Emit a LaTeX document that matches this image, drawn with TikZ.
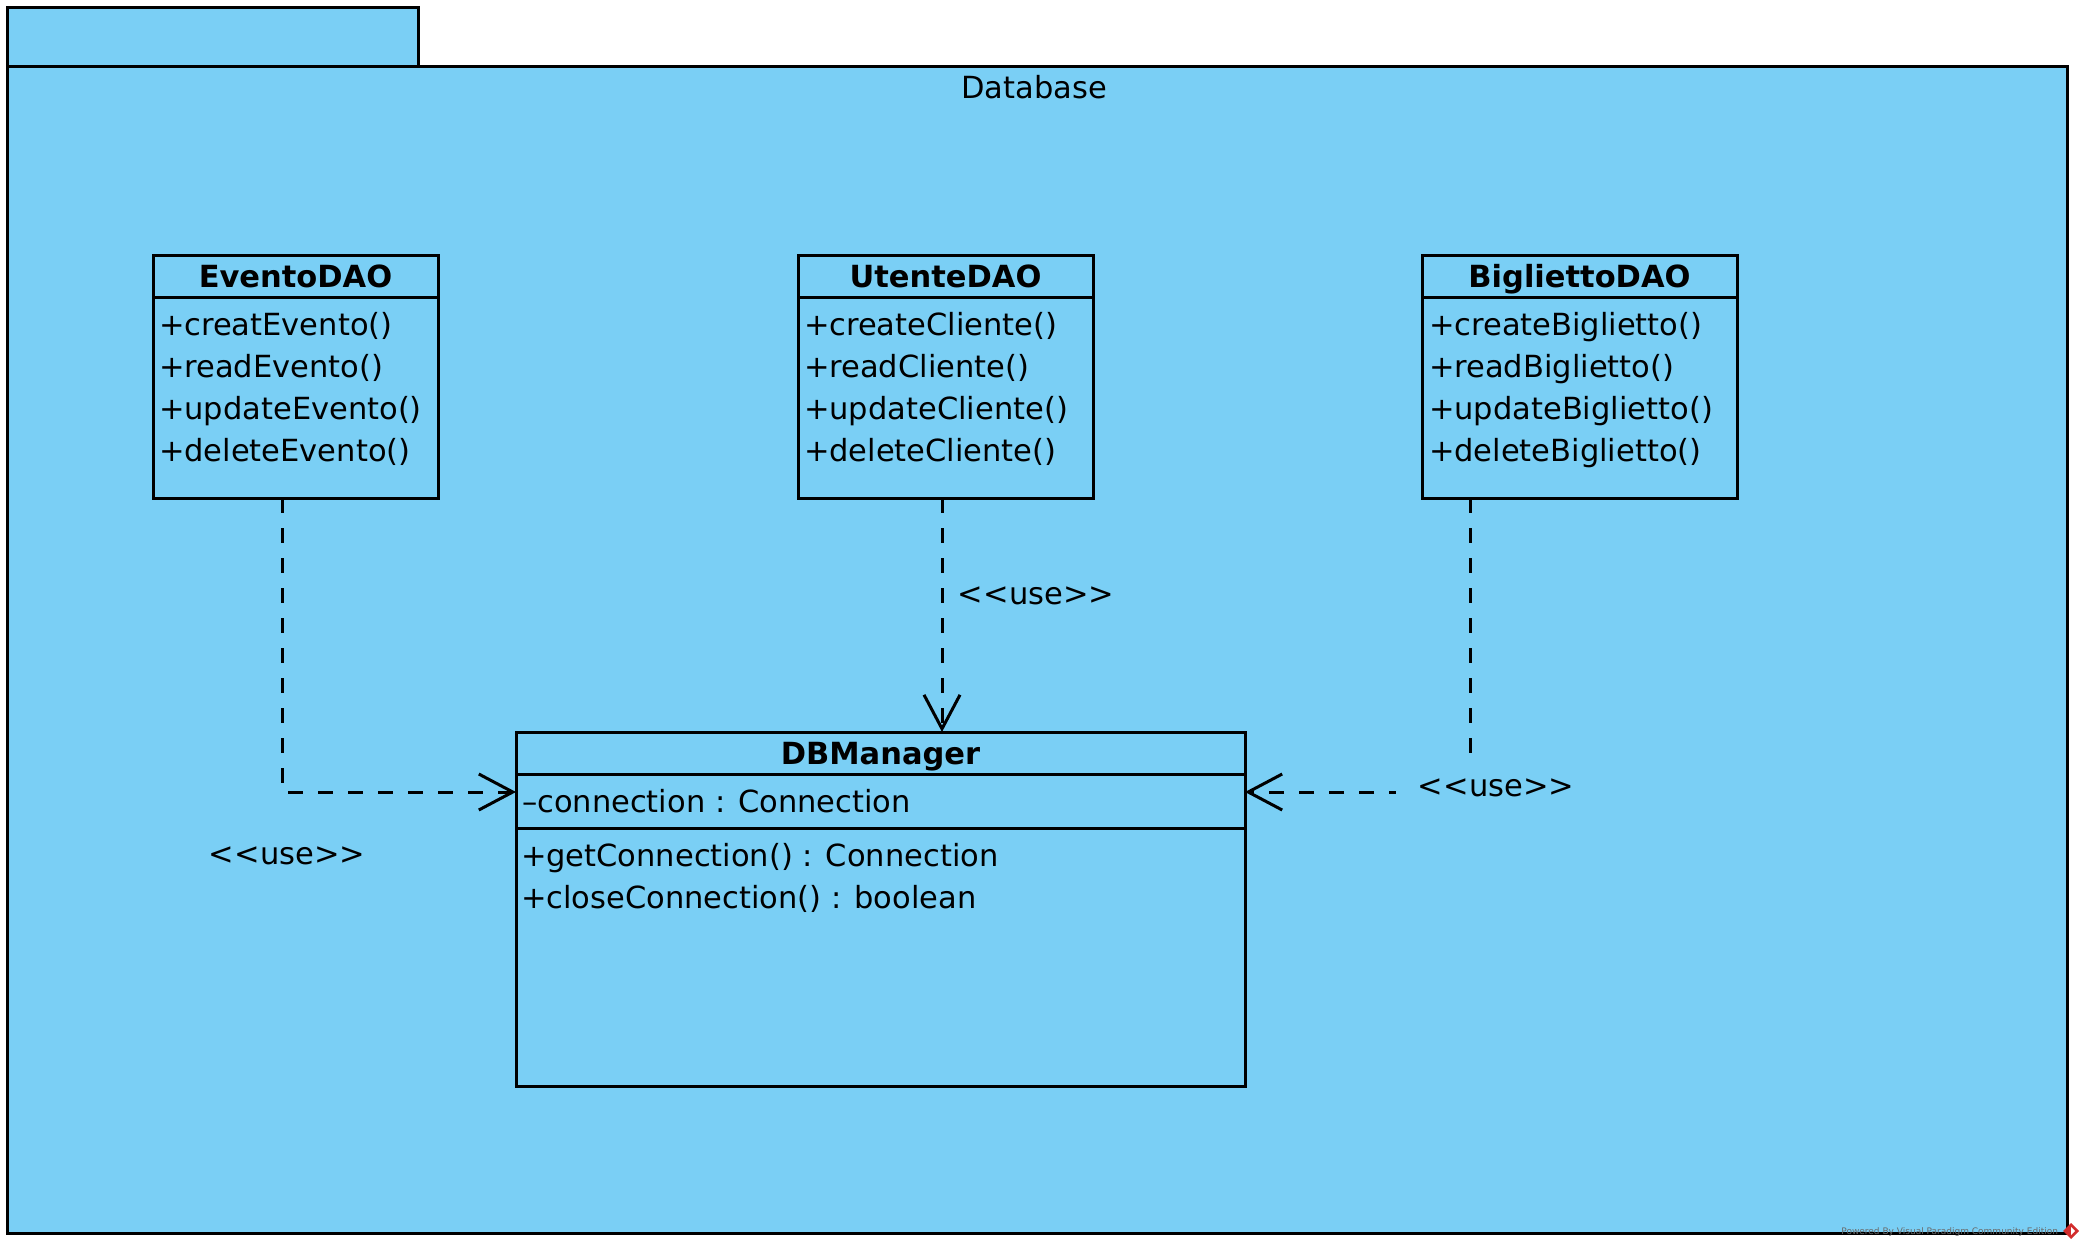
\documentclass[tikz,border=0pt]{standalone}
\usepackage{fontspec}
\setmainfont{DejaVu Sans}[Ligatures=TeXOff]
\usetikzlibrary{arrows.meta,positioning}
\definecolor{pkgblue}{RGB}{122,207,245}
\definecolor{vpgrey}{RGB}{105,105,105}
\definecolor{vpred}{RGB}{210,45,45}

\begin{document}
\begin{tikzpicture}[x=1pt,y=-1pt,line width=3pt,
  every node/.style={inner sep=0pt, outer sep=0pt, font=\fontsize{30.5}{36}\selectfont},
  classbox/.style={draw, fill=pkgblue, anchor=north west},
  classname/.style={anchor=base, font=\fontsize{30.5}{36}\selectfont\bfseries},
  member/.style={anchor=base west},
  uselabel/.style={anchor=base},
  usedep/.style={dash pattern=on 15pt off 15pt, -{Straight Barb[length=34pt,width=36pt]}}]
\useasboundingbox (0,0) rectangle (2082,1248);
\draw[fill=pkgblue] (7,7) rectangle (418,66);
\draw[fill=pkgblue] (7,66) rectangle (2067,1233);
\node[anchor=base] (database) at (1034,98) {Database};

\node[classbox, minimum width=285pt, minimum height=243pt] (evento) at (153,255) {};
\draw ([yshift=-42pt]evento.north west) -- ([yshift=-42pt]evento.north east);
\node[classname] (eventoName) at ([yshift=-32pt]evento.north) {EventoDAO};
\foreach \m [count=\i] in {creatEvento,readEvento,updateEvento,deleteEvento}
  \node[member] (evento\i) at (159,{293+42*\i}) {+\m()};

\node[classbox, minimum width=295pt, minimum height=243pt] (utente) at (798,255) {};
\draw ([yshift=-42pt]utente.north west) -- ([yshift=-42pt]utente.north east);
\node[classname] (utenteName) at ([yshift=-32pt]utente.north) {UtenteDAO};
\foreach \m [count=\i] in {createCliente,readCliente,updateCliente,deleteCliente}
  \node[member] (utente\i) at (804,{293+42*\i}) {+\m()};

\node[classbox, minimum width=315pt, minimum height=243pt] (biglietto) at (1422,255) {};
\draw ([yshift=-42pt]biglietto.north west) -- ([yshift=-42pt]biglietto.north east);
\node[classname] (bigliettoName) at ([yshift=-32pt]biglietto.north) {BigliettoDAO};
\foreach \m [count=\i] in {createBiglietto,readBiglietto,updateBiglietto,deleteBiglietto}
  \node[member] (biglietto\i) at (1429,{293+42*\i}) {+\m()};

\node[classbox, minimum width=729pt, minimum height=354pt] (dbm) at (516,732) {};
\draw ([yshift=-42pt]dbm.north west) -- ([yshift=-42pt]dbm.north east);
\draw ([yshift=-96pt]dbm.north west) -- ([yshift=-96pt]dbm.north east);
\node[classname] (dbmName) at ([yshift=-32pt]dbm.north) {DBManager};
\node[member] (dbmAttr) at (522,812) {–connection : Connection};
\node[member] (dbmOp1) at (521,866) {+getConnection() : Connection};
\node[member] (dbmOp2) at (521,908) {+closeConnection() : boolean};

\coordinate (eventoOut) at ([xshift=-13.5pt]evento.south);
\coordinate (utenteOut) at ([xshift=-3.5pt]utente.south);
\coordinate (bigliettoOut) at ([xshift=-109.5pt]biglietto.south);
\coordinate (dbmLeft) at ([yshift=-60pt]dbm.north west);
\coordinate (dbmRight) at ([yshift=-60pt]dbm.north east);
\draw[usedep] (eventoOut) |- (dbmLeft);
\draw[usedep] (utenteOut) -- (utenteOut |- dbm.north);
\draw[usedep] (bigliettoOut) |- (dbmRight);

\node[uselabel] (useEvento) at (287,864) {<<use>>};
\node[uselabel] (useUtente) at (1036,604) {<<use>>};
\node[uselabel, fill=pkgblue, inner sep=22pt] (useBiglietto) at (1496,796) {<<use>>};

\node[anchor=base east, font=\fontsize{9}{10}\selectfont, text=vpgrey] (vpnote) at (2058,1234) {Powered By Visual Paradigm Community Edition};
\fill[vpred] (2071,1223) -- (2079,1231) -- (2071,1239) -- (2063,1231) -- cycle;
\fill[white] (2071,1227) -- (2075,1231) -- (2071,1235) -- cycle;
\end{tikzpicture}
\end{document}
